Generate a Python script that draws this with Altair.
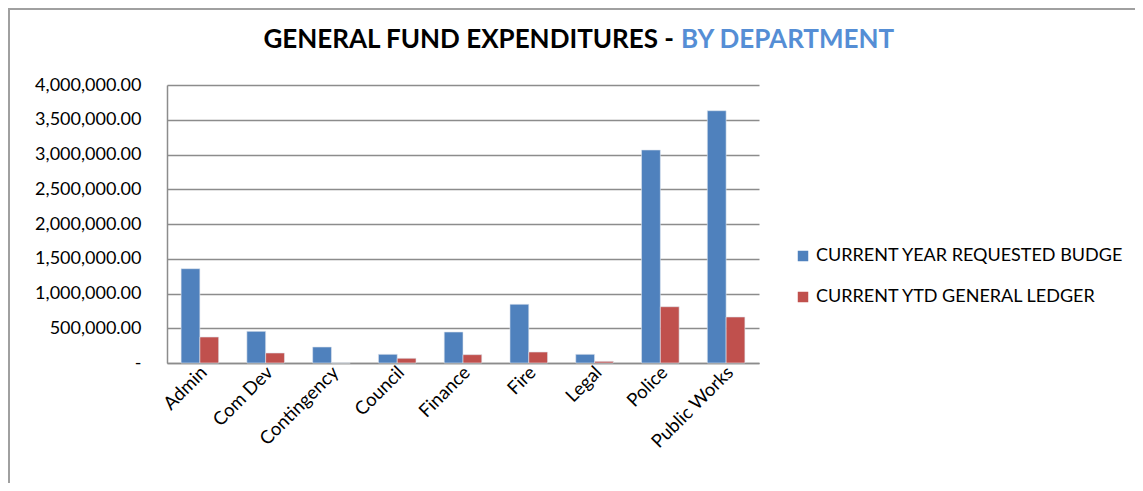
import altair as alt
import pandas as pd

departments = ["Admin", "Com Dev", "Contingency", "Council", "Finance", "Fire", "Legal", "Police", "Public Works"]
budget = [1357000, 456000, 230000, 125000, 446000, 845000, 125000, 3065000, 3630000]
ledger = [374000, 144000, 0, 68000, 120000, 158000, 24000, 810000, 662000]
series = ["CURRENT YEAR REQUESTED BUDGE", "CURRENT YTD GENERAL LEDGER"]
colors = ["#4F81BD", "#C0504D"]
y_ticks = [0, 500000, 1000000, 1500000, 2000000, 2500000, 3000000, 3500000, 4000000]

rows = []
for d, b, l in zip(departments, budget, ledger):
    rows.append({"dept": d, "series": series[0], "value": b})
    rows.append({"dept": d, "series": series[1], "value": l})
df = pd.DataFrame(rows)

W, H = 592, 278
FONT = "Lato"

bars = alt.Chart(df).mark_bar(stroke="#dfe6ef", strokeWidth=0.6).encode(
    x=alt.X("dept:N", sort=departments,
            scale=alt.Scale(paddingInner=0.4286, paddingOuter=0.2143),
            axis=alt.Axis(title=None, labelAngle=-45, labelAlign="right", labelBaseline="middle",
                          labelFont=FONT, labelFontSize=18.5, labelColor="#000000",
                          labelPadding=6, ticks=False, domainColor="#8c8c8c", domainWidth=1.5,
                          labelOffset=4)),
    xOffset=alt.XOffset("series:N", sort=series, scale=alt.Scale(paddingInner=0, paddingOuter=0)),
    y=alt.Y("value:Q", scale=alt.Scale(domain=[0, 4000000], nice=False),
            axis=alt.Axis(title=None, values=y_ticks, ticks=False,
                          labelExpr="datum.value == 0 ? '-\u00a0\u00a0\u00a0\u00a0' : format(datum.value, ',.2f')",
                          labelFont=FONT, labelFontSize=18, labelColor="#000000", labelPadding=26,
                          gridColor="#8c8c8c", gridWidth=1.5, domainColor="#8c8c8c", domainWidth=1.5)),
    color=alt.Color("series:N", sort=series, scale=alt.Scale(domain=series, range=colors),
                    legend=alt.Legend(title=None, orient="none", legendX=627, legendY=162,
                                      symbolType="square", symbolSize=110, symbolStrokeWidth=0,
                                      labelFont=FONT, labelFontSize=18, labelColor="#000000",
                                      rowPadding=23, labelOffset=4, labelLimit=400)),
)

title_df = pd.DataFrame({"t1": ["GENERAL FUND EXPENDITURES -"], "t2": ["BY DEPARTMENT"]})
t1 = alt.Chart(title_df).mark_text(font=FONT, fontSize=26, fontWeight="bold", color="#000000",
                                   align="right", baseline="middle").encode(
    x=alt.value(507), y=alt.value(-45), text="t1:N")
t2 = alt.Chart(title_df).mark_text(font=FONT, fontSize=26, fontWeight="bold", color="#558ED5",
                                   align="left", baseline="middle").encode(
    x=alt.value(514), y=alt.value(-45), text="t2:N")

frame = alt.Chart(title_df).mark_rect(fill=None, stroke="#a0a0a0", strokeWidth=2).encode(
    x=alt.value(-158), y=alt.value(-76), x2=alt.value(W + 500), y2=alt.value(H + 300))

chart = alt.layer(frame, bars, t1, t2).properties(
    width=W, height=H,
    autosize=alt.AutoSizeParams(type="none"),
    padding={"left": 159, "top": 77, "right": 376, "bottom": 120},
).configure_view(stroke=None)

chart.save("out.html", embed_options={"renderer": "svg", "actions": False})
